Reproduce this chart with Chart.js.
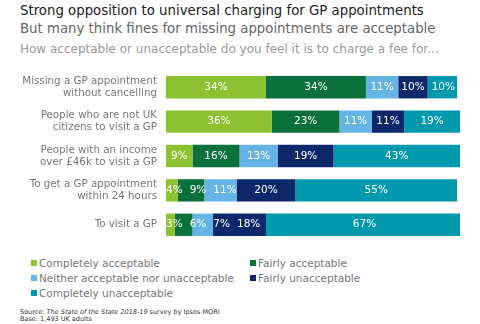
<!DOCTYPE html>
<html lang="en">
<head>
<meta charset="UTF-8">
<title>GP charging</title>
<script src="https://cdn.jsdelivr.net/npm/chart.js@4.4.0/dist/chart.umd.min.js"></script>
<style>
    body { margin: 0; width: 480px; height: 324px; background: #fff; font-family: "DejaVu Sans", Verdana, sans-serif; position: relative; overflow: hidden; }
    .t { position: absolute; left: 20px; white-space: nowrap; }
    #title { top: 3px; font-size: 13.3px; color: #222; }
    #subtitle { top: 21px; font-size: 13.3px; color: #666; }
    #question { top: 42px; font-size: 12px; color: #999; }
    #wrap { position: absolute; left: 0; top: 63px; width: 480px; height: 192px; }
    #legend { position: absolute; left: 31px; top: 257px; width: 440px; }
    .item { position: absolute; font-size: 10.5px; color: #777; white-space: nowrap; }
    .item span { display: inline-block; width: 6px; height: 6px; margin-right: 2px; vertical-align: 1px; }
    #source { position: absolute; left: 20px; top: 309px; font-size: 6.5px; line-height: 7px; color: #333; }
</style>
</head>
<body>
<div class="t" id="title">Strong opposition to universal charging for GP appointments</div>
<div class="t" id="subtitle">But many think fines for missing appointments are acceptable</div>
<div class="t" id="question">How acceptable or unacceptable do you feel it is to charge a fee for...</div>
<div id="wrap"><canvas id="chart"></canvas></div>
<div id="legend"></div>
<div id="source">Source: <i>The State of the State 2018-19</i> survey by Ipsos MORI<br>Base: 1,493 UK adults</div>

<script>
    // Categories (two-line labels)
    const categories = [
        ['Missing a GP appointment', 'without cancelling'],
        ['People who are not UK', 'citizens to visit a GP'],
        ['People with an income', 'over £46k to visit a GP'],
        ['To get a GP appointment', 'within 24 hours'],
        ['To visit a GP']
    ];

    const seriesNames = [
        'Completely acceptable',
        'Fairly acceptable',
        'Neither acceptable nor unacceptable',
        'Fairly unacceptable',
        'Completely unacceptable'
    ];
    const seriesColors = ['#8CC231', '#0B713C', '#66B4E5', '#0C286A', '#0099AD'];

    // Percentages per series, one value per category
    const completelyAcceptable = [34, 36, 9, 4, 3];
    const fairlyAcceptable = [34, 23, 16, 9, 6];
    const neither = [11, 11, 13, 11, 7];
    const fairlyUnacceptable = [10, 11, 19, 20, 18];
    const completelyUnacceptable = [10, 19, 43, 55, 67];

    const seriesValues = [completelyAcceptable, fairlyAcceptable, neither, fairlyUnacceptable, completelyUnacceptable];

    // Legend in two columns
    const legendEl = document.getElementById('legend');
    seriesNames.forEach((name, i) => {
        const d = document.createElement('div');
        d.className = 'item';
        d.style.left = (i % 2 === 0 ? 0 : 219) + 'px';
        d.style.top = (Math.floor(i / 2) * 15) + 'px';
        d.innerHTML = '<span style="background:' + seriesColors[i] + '"></span>' + name;
        legendEl.appendChild(d);
    });

    // White percentage labels, centred in each segment but pushed right so they don't collide
    const segmentLabels = {
        id: 'segmentLabels',
        afterDatasetsDraw(chart) {
            const ctx = chart.ctx;
            const gap = 7;
            ctx.save();
            ctx.font = '10.5px "DejaVu Sans"';
            ctx.fillStyle = '#fff';
            ctx.textAlign = 'left';
            ctx.textBaseline = 'middle';
            chart.data.labels.forEach((_, i) => {
                let minLeft = chart.chartArea.left;
                chart.data.datasets.forEach((ds, di) => {
                    const bar = chart.getDatasetMeta(di).data[i];
                    const text = ds.data[i] + '%';
                    const w = ctx.measureText(text).width;
                    let left = (bar.x + bar.base) / 2 - w / 2;
                    if (left < minLeft) left = minLeft;
                    ctx.fillText(text, left, bar.y);
                    minLeft = left + w + gap;
                });
            });
            ctx.restore();
        }
    };

    new Chart(document.getElementById('chart'), {
        type: 'bar',
        data: {
            labels: categories,
            datasets: seriesNames.map((name, i) => ({
                label: name,
                data: seriesValues[i],
                backgroundColor: seriesColors[i],
                borderWidth: 0,
                barPercentage: 0.65,
                categoryPercentage: 1
            }))
        },
        options: {
            indexAxis: 'y',
            responsive: true,
            maintainAspectRatio: false,
            animation: false,
            layout: { padding: { left: 0, right: 20, top: 0, bottom: 0 } },
            scales: {
                x: { stacked: true, display: false, min: 0, max: 100 },
                y: {
                    stacked: true,
                    grid: { display: false },
                    border: { display: false },
                    ticks: {
                        color: '#777',
                        font: { family: 'DejaVu Sans', size: 10.3, lineHeight: 1.17 },
                        padding: 1
                    },
                    afterFit(scale) { scale.width = 166; }
                }
            },
            plugins: {
                legend: { display: false },
                tooltip: { enabled: false }
            }
        },
        plugins: [segmentLabels]
    });
</script>
</body>
</html>
